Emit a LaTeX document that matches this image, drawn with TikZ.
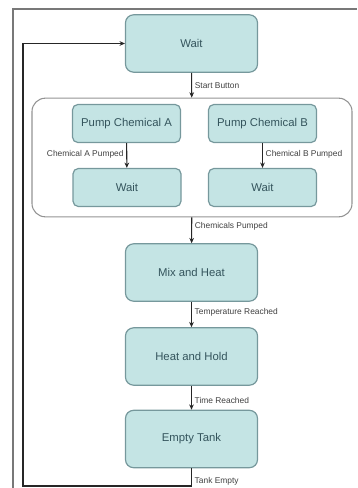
\documentclass[tikz,border=0pt]{standalone}
\usepackage{fontspec}
\setmainfont{Liberation Sans}
\usepackage{tikz}
\usetikzlibrary{arrows.meta, positioning, calc}
\definecolor{boxfill}{RGB}{196,228,228}
\definecolor{boxline}{RGB}{118,152,156}
\definecolor{boxtext}{RGB}{52,84,92}
\definecolor{frameg}{RGB}{120,120,120}
\tikzset{
  % --- Zustaende --------------------------------------------
  state/.style={draw=boxline, fill=boxfill, rounded corners=6pt,
    minimum width=99pt, minimum height=43pt, align=center,
    font=\fontsize{8.5}{10}\selectfont, text=boxtext, line width=0.9pt},
  substate/.style={draw=boxline, fill=boxfill, rounded corners=4pt,
    minimum width=81pt, minimum height=28.5pt, align=center,
    font=\fontsize{8.5}{10}\selectfont, text=boxtext, line width=0.9pt},
  group/.style={draw=frameg!80, rounded corners=10pt, fill=none,
    minimum width=240pt, minimum height=89pt, line width=0.8pt},
  fl/.style={-{Stealth[length=4pt,width=3.5pt]}, line width=0.8pt, black!85},
  lbl/.style={font=\fontsize{6.3}{7}\selectfont, text=black!75, inner sep=2pt}
}
\begin{document}
\begin{tikzpicture}[x=0.75pt, y=-0.75pt]
  \useasboundingbox (0,0) rectangle (357,488);

  % --- Rahmen ---------------------------------------------------
  \draw[frameg, line width=1.1pt] (13,488) -- (13,9) -- (357,9);

  % --- Hauptzustaende --------------------------------------------
  \node[state] (W0) at (191.5,43.5) {Wait};
  \node[group] (PUMP) at (192,157.5) {};
  \node[substate] (PA) at (126.5,123.5) {Pump Chemical A};
  \node[substate] (PB) at (262.5,123.5) {Pump Chemical B};
  \node[substate] (WA) at (127,187.5) {Wait};
  \node[substate] (WB) at (262.5,187.5) {Wait};
  \node[state] (MH) at (191.5,272.5) {Mix and Heat};
  \node[state] (HH) at (191.5,356.5) {Heat and Hold};
  \node[state] (ET) at (191.5,439) {Empty Tank};
  \coordinate (ret) at (23,486);

  % --- Uebergaenge ------------------------------------------------
  \draw[fl] (W0) -- (PUMP) node[lbl, right, pos=0.5] {Start Button};
  \draw[fl] (PA) -- (WA) node[lbl, left, pos=0.45] {Chemical A Pumped};
  \draw[fl] (PB) -- (WB) node[lbl, right, pos=0.45] {Chemical B Pumped};
  \draw[fl] (PUMP) -- (MH) node[lbl, right, pos=0.35] {Chemicals Pumped};
  \draw[fl] (MH) -- (HH) node[lbl, right, pos=0.4] {Temperature Reached};
  \draw[fl] (HH) -- (ET) node[lbl, right, pos=0.6] {Time Reached};
  \draw[fl] (ET.south) |- (ret) node[lbl, right, pos=0.38] {Tank Empty}
    |- (W0.west);

\end{tikzpicture}
\end{document}
